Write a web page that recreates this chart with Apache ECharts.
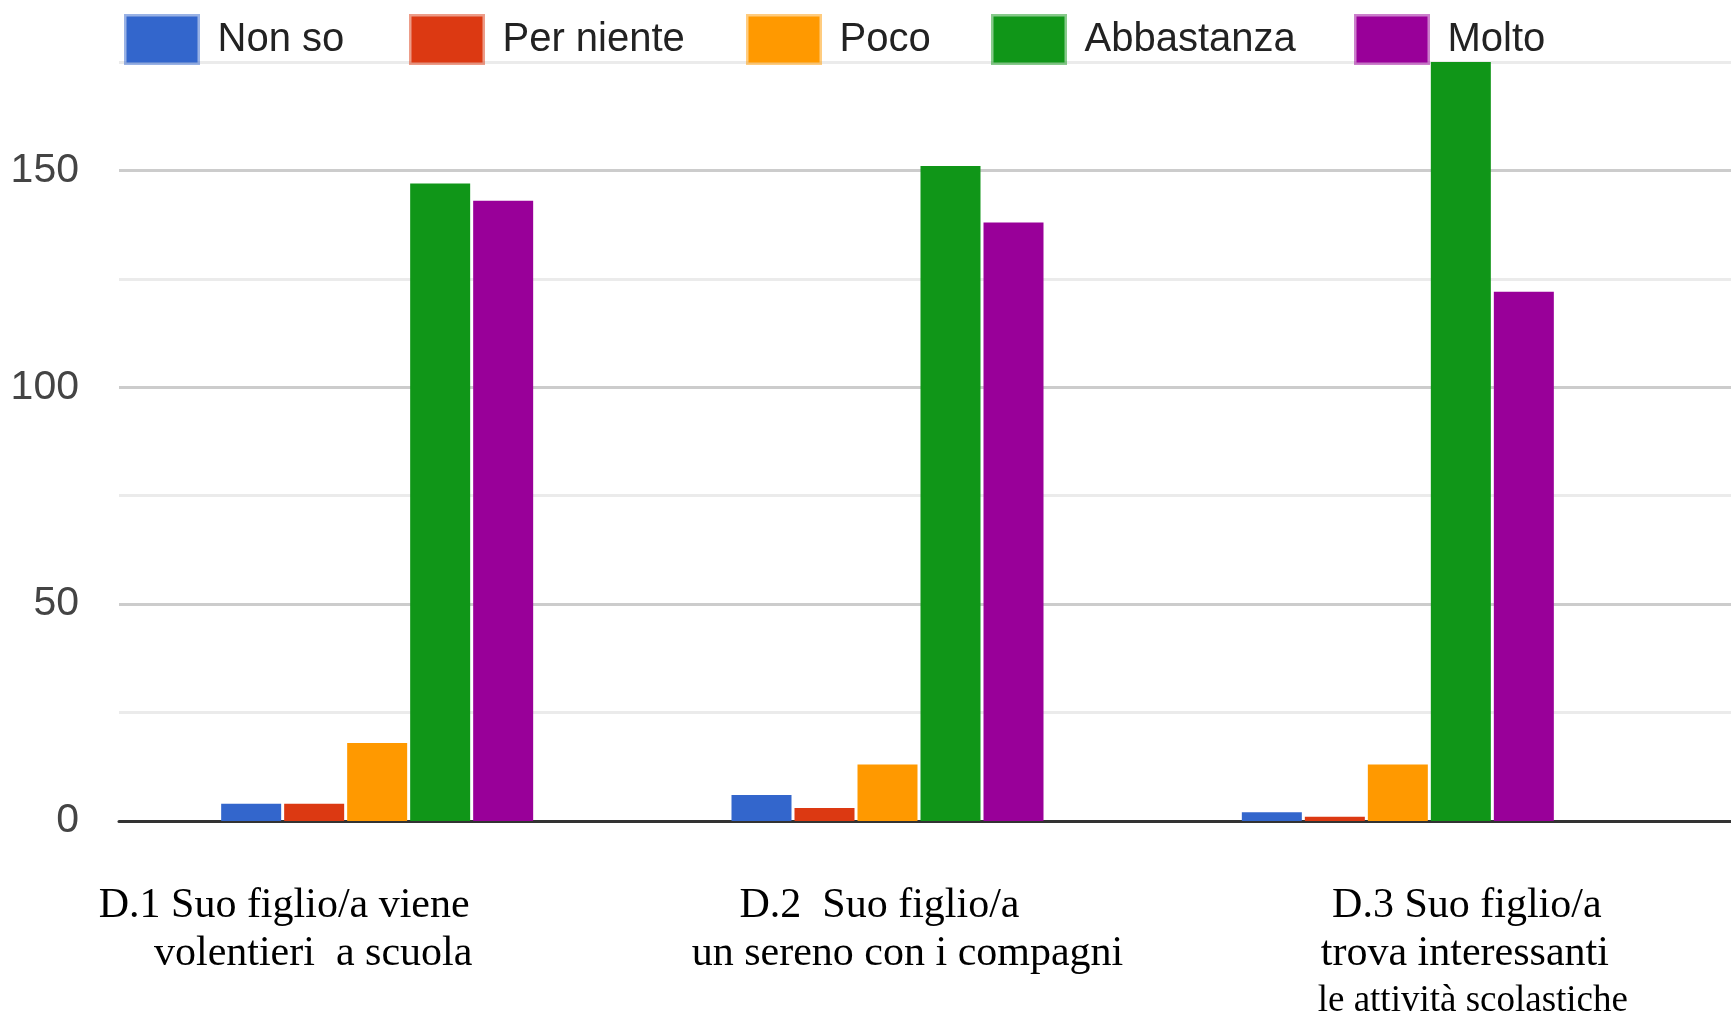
<!DOCTYPE html>
<html>
<head>
<meta charset="utf-8">
<script src="https://cdn.jsdelivr.net/npm/echarts@6/dist/echarts.min.js"></script>
<style>
    html, body {margin: 0; padding: 0; background: #fff;}
    #chart {width: 1731px; height: 1014px;}
</style>
</head>
<body>
<div id="chart"></div>
<script>
var categories = [
    'D.1 Suo figlio/a viene\nvolentieri  a scuola',
    'D.2  Suo figlio/a\nun sereno con i compagni',
    'D.3 Suo figlio/a\ntrova interessanti\nle attività scolastiche'
];
var seriesNames = ['Non so', 'Per niente', 'Poco', 'Abbastanza', 'Molto'];
var nonSo = [4, 6, 2];
var perNiente = [4, 3, 1];
var poco = [18, 13, 13];
var abbastanza = [147, 151, 178];
var molto = [143, 138, 122];
var yTickLabels = [0, 50, 100, 150];

var colors = ['#3366cc', '#dc3912', '#ff9900', '#109618', '#990099'];
var borders = ['rgba(51,102,204,0.5)', 'rgba(220,57,18,0.5)', 'rgba(255,153,0,0.5)',
    'rgba(16,150,24,0.5)', 'rgba(153,0,153,0.5)'];
// left edge of each legend swatch (px)
var legendLeft = [124, 409, 746, 991, 1354];
// horizontal shift of each label line from the category centre (px)
var lineShift = [[-93, -64], [-8, 20], [69, 67, 75]];
var sans = '"Liberation Sans", Arial, sans-serif';

var rich = {};
lineShift.forEach(function (shifts, i) {
    shifts.forEach(function (d, j) {
        rich['c' + i + 'l' + j] = {
            fontFamily: '"Liberation Serif", serif',
            fontSize: (i === 2 && j === 2) ? 37 : 42,
            lineHeight: (i === 2 && j === 2) ? 46 : 48,
            color: '#000',
            padding: d > 0 ? [0, 0, 0, 2 * d] : [0, -2 * d, 0, 0]
        };
    });
});

var values = [nonSo, perNiente, poco, abbastanza, molto];
var series = seriesNames.map(function (name, i) {
    return {
        name: name,
        type: 'bar',
        xAxisIndex: 1,
        yAxisIndex: 1,
        barWidth: 60,
        barGap: '5%',
        clip: true,
        itemStyle: {color: colors[i]},
        data: values[i]
    };
});

var legends = seriesNames.map(function (n, i) {
    return {
        left: legendLeft[i],
        top: 14,
        padding: 0,
        itemWidth: 71,
        itemHeight: 46,
        textStyle: {
            fontFamily: sans,
            fontSize: 40,
            color: '#222',
            padding: [0, 0, 0, 15]
        },
        data: [{name: n, icon: 'rect', itemStyle: {borderColor: borders[i], borderWidth: 5}}]
    };
});

var option = {
    animation: false,
    backgroundColor: '#fff',
    color: colors,
    legend: legends,
    grid: [
        {left: 119, right: 0, top: 62, bottom: 193, outerBoundsMode: 'none'},
        {left: 122, right: 78, top: 62, bottom: 193, outerBoundsMode: 'none'}
    ],
    xAxis: [
        {
            type: 'value',
            gridIndex: 0,
            min: 0,
            max: 1,
            axisLine: {show: true, lineStyle: {color: '#333', width: 3}},
            axisTick: {show: false},
            axisLabel: {show: false},
            splitLine: {show: false}
        },
        {
            type: 'category',
            gridIndex: 1,
            data: categories,
            axisLine: {show: false},
            axisTick: {show: false},
            axisLabel: {
                interval: 0,
                margin: 61,
                formatter: function (value, idx) {
                    return value.split('\n').map(function (line, j) {
                        return '{c' + idx + 'l' + j + '|' + line + '}';
                    }).join('\n');
                },
                rich: rich
            }
        }
    ],
    yAxis: [
        {
            type: 'value',
            gridIndex: 0,
            min: 0,
            max: 175,
            interval: 25,
            axisLine: {show: false},
            axisTick: {show: false},
            axisLabel: {
                margin: 40,
                fontFamily: sans,
                fontSize: 41,
                color: '#444',
                formatter: function (v) {
                    return yTickLabels.indexOf(v) >= 0 ? String(v) : '';
                }
            },
            splitLine: {lineStyle: {color: ['#cccccc', '#ebebeb'], width: 3}}
        },
        {
            type: 'value',
            gridIndex: 1,
            min: 0,
            max: 175,
            show: false
        }
    ],
    series: series
};

echarts.init(document.getElementById('chart')).setOption(option);
</script>
</body>
</html>
